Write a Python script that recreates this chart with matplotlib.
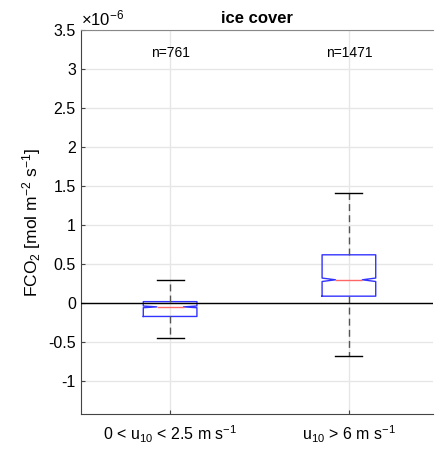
import matplotlib
matplotlib.use("Agg")
import matplotlib.pyplot as plt

plt.rcParams['font.family'] = ['Liberation Sans', 'DejaVu Sans']
plt.rcParams['mathtext.fontset'] = 'custom'
plt.rcParams['mathtext.rm'] = 'Liberation Sans'
plt.rcParams['mathtext.it'] = 'Liberation Sans'
plt.rcParams['mathtext.bf'] = 'Liberation Sans:bold'

# values in units of 1e-6 mol m^-2 s^-1
categories = [r"0 < u$_{\mathregular{10}}$ < 2.5 m s$^{\mathregular{-1}}$",
              r"u$_{\mathregular{10}}$ > 6 m s$^{\mathregular{-1}}$"]
counts = [761, 1471]
medians = [-0.047, 0.30]
q1 = [-0.17, 0.09]
q3 = [0.02, 0.62]
whislo = [-0.45, -0.68]
whishi = [0.30, 1.41]
ci_lo = [-0.058, 0.278]
ci_hi = [-0.036, 0.322]

fig = plt.figure(figsize=(4.37, 4.51), dpi=100)
ax = fig.add_axes([0.1847, 0.082, 0.806, 0.8514])

stats = []
for i in range(len(categories)):
    stats.append(dict(med=medians[i], q1=q1[i], q3=q3[i], whislo=whislo[i],
                      whishi=whishi[i], cilo=ci_lo[i], cihi=ci_hi[i],
                      fliers=[], label=categories[i]))

ax.bxp(stats, positions=[1, 2], widths=0.3, shownotches=True,
       boxprops=dict(color='#3333ff', linewidth=1.0),
       medianprops=dict(color='#ff6666', linewidth=1.0),
       whiskerprops=dict(color='#555555', linewidth=1.0, linestyle=(0, (5, 3))),
       capprops=dict(color='black', linewidth=1.0),
       showfliers=False, zorder=3)

ax.axhline(0, color='black', linewidth=1.0, zorder=4)

for i, n in enumerate(counts):
    ax.text(i + 1, 3.2, f"n={n}", ha='center', va='center', fontsize=10)

ax.set_xlim(0.5, 2.47)
ax.set_ylim(-1.42, 3.5)
ax.set_yticks([-1, -0.5, 0, 0.5, 1, 1.5, 2, 2.5, 3, 3.5])
ax.set_yticklabels(['-1', '-0.5', '0', '0.5', '1', '1.5', '2', '2.5', '3', '3.5'])
ax.set_xticks([1, 2])
ax.set_xticklabels(categories, fontsize=11.5)
ax.tick_params(axis='y', labelsize=11.5, direction='in', length=3, color='#444444')
ax.tick_params(axis='x', direction='in', length=3, color='#444444', pad=7)
ax.grid(True, color='#e6e6e6', linewidth=1.0, zorder=0)
ax.set_axisbelow(True)
for s in ax.spines.values():
    s.set_color('#444444')
    s.set_linewidth(0.8)
ax.spines['top'].set_color('#888888')
ax.spines['right'].set_visible(False)

ax.set_ylabel(r"FCO$_{\mathregular{2}}$ [mol m$^{\mathregular{-2}}$ s$^{\mathregular{-1}}$]", fontsize=12.5)
ax.set_title("ice cover", fontsize=12, fontweight='bold', pad=5)
ax.text(0.0, 1.003, r"$\times$10$^{\mathregular{-6}}$", transform=ax.transAxes, ha='left',
        va='bottom', fontsize=12)

fig.savefig("out.png", dpi=100)
